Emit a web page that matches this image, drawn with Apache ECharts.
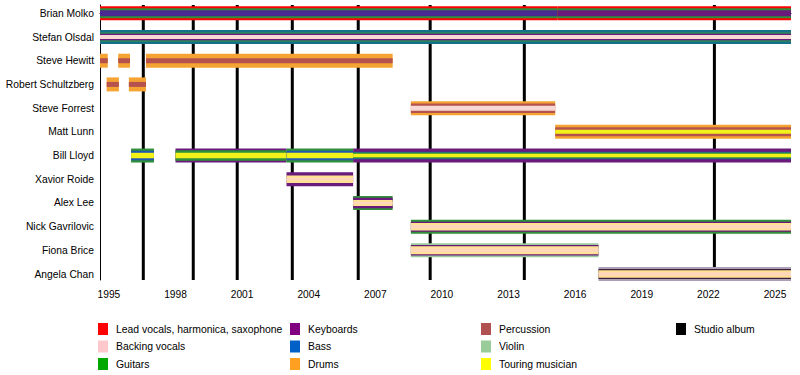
<!DOCTYPE html>
<html><head><meta charset="utf-8">
<script src="https://cdn.jsdelivr.net/npm/echarts@6/dist/echarts.min.js"></script>
<style>html,body{margin:0;padding:0;background:#fff}#c{width:800px;height:375px}</style>
</head><body><div id="c"></div>
<script>
// ---------- data ----------
const members = ['Brian Molko','Stefan Olsdal','Steve Hewitt','Robert Schultzberg','Steve Forrest','Matt Lunn','Bill Lloyd','Xavior Roide','Alex Lee','Nick Gavrilovic','Fiona Brice','Angela Chan'];
const timelineStart = 1994.6;
const timelineEnd = 2025.72;
const albumDates = [1996.55, 1998.8, 2000.78, 2003.26, 2006.23, 2009.47, 2013.71, 2022.27];
const yearTicks = [1995,1996,1997,1998,1999,2000,2001,2002,2003,2004,2005,2006,2007,2008,2009,2010,2011,2012,2013,2014,2015,2016,2017,2018,2019,2020,2021,2022,2023,2024,2025];
const yearLabels = [1995,1998,2001,2004,2007,2010,2013,2016,2019,2022,2025];
// each membership period: member, start, end, roles from outer to inner
const segMember = ['Brian Molko','Brian Molko','Stefan Olsdal','Steve Hewitt','Steve Hewitt','Steve Hewitt','Robert Schultzberg','Robert Schultzberg','Steve Forrest','Matt Lunn','Bill Lloyd','Bill Lloyd','Bill Lloyd','Bill Lloyd','Xavior Roide','Alex Lee','Nick Gavrilovic','Fiona Brice','Angela Chan'];
const segStart  = [1994.6, 2015.2, 1994.6, 1994.6, 1995.42, 1996.67, 1994.9, 1995.9, 2008.6, 2015.1, 1996.0, 1998.0, 2003.0, 2006.0, 2003.0, 2006.0, 2008.6, 2008.6, 2017.05];
const segEnd    = [2015.2, 2025.72, 2025.72, 1994.95, 1995.95, 2007.78, 1995.45, 1996.67, 2015.1, 2025.72, 1997.03, 2003.0, 2006.0, 2025.72, 2006.0, 2007.78, 2025.72, 2017.05, 2025.72];
const segRoles  = [
  ['vocals','guitars','keyboardsBlue'],
  ['vocals','guitars','keyboards'],
  ['bassTeal','guitarsTeal','keyboards','backing'],
  ['drums','percussion'],
  ['drums','percussion'],
  ['drums','percussion'],
  ['drums','percussion'],
  ['drums','percussion'],
  ['drums','percussion','backing'],
  ['drums','percussion','touring'],
  ['guitars','bass','touring'],
  ['keyboards','guitars','touring'],
  ['guitars','bass','touring'],
  ['keyboards','bass','guitars','touring'],
  ['keyboards','touringLight','backingLight'],
  ['guitars','keyboards','touringLight','backingLight'],
  ['guitars','keyboards','touringLight','backingLight'],
  ['violin','keyboards','touringLight','backingLight'],
  ['violinGray','keyboardsDark','touringLight','backingLight']
];
const legendCols = [
  ['Lead vocals, harmonica, saxophone','Backing vocals','Guitars'],
  ['Keyboards','Bass','Drums'],
  ['Percussion','Violin','Touring musician'],
  ['Studio album']
];

// ---------- styles ----------
const segHeights = [
  [14,10,6],
  [14,10,6],
  [14,9.5,6.5,4],
  [14,5],[14,5],[14,5],[14,5],[14,5],
  [14,9.5,5],
  [14,9,4],
  [14,9.5,5.5],
  [14,10.5,5.5],
  [14,9.5,5.5],
  [14,7.5,6,3.5],
  [14,7.5,2.5],
  [14,10.5,6,2.5],
  [14,10,7.5,3.5],
  [14,10.5,8,3.5],
  [14,10,7.5,3.5]
];
const roleColor = {
  vocals:'#ff0000', backing:'#f8d8d4', guitars:'#2f8f3a', guitarsTeal:'#2c8a5c', keyboards:'#6a1a7a', keyboardsBlue:'#4a2a8e',
  keyboardsDark:'#3e1f3a', bass:'#1f58b0', bassTeal:'#17708a',
  drums:'#f5a332', percussion:'#b5524e', violin:'#9ccb9c', violinGray:'#aca0b8', touring:'#f2f21a',
  touringLight:'#ffe194', backingLight:'#ffd6bc'
};
const legendColor = {
  'Lead vocals, harmonica, saxophone':'#ff0000','Backing vocals':'#ffc8cc','Guitars':'#00a800',
  'Keyboards':'#800080','Bass':'#0060c8','Drums':'#ffa020',
  'Percussion':'#b05050','Violin':'#99cc99','Touring musician':'#ffff00','Studio album':'#000000'
};
const legendLeft = [98, 290, 481, 676];

const chart = echarts.init(document.getElementById('c'), null, {renderer:'svg'});
const font = '"Liberation Sans", Arial, sans-serif';

const barData = segMember.map((m,i)=>[segStart[i], segEnd[i], members.indexOf(m), i]);

const series = [
  {
    type:'custom', name:'albums', z:1, silent:true,
    data: albumDates.map(d=>[d]),
    renderItem:(params, api)=>{
      const a = api.coord([api.value(0), -0.35]);
      const b = api.coord([api.value(0), 11.25]);
      return {type:'rect', shape:{x:a[0]-1.5, y:a[1], width:3, height:b[1]-a[1]}, style:{fill:'#000'}};
    }
  },
  {
    type:'custom', name:'bars', z:2, silent:true,
    data: barData,
    renderItem:(params, api)=>{
      const idx = api.value(3);
      const p0 = api.coord([api.value(0), api.value(2)]);
      const p1 = api.coord([api.value(1), api.value(2)]);
      const roles = segRoles[idx], hs = segHeights[idx];
      return {type:'group', children: roles.map((r,k)=>({
        type:'rect', shape:{x:p0[0], y:p0[1]-hs[k]/2, width:p1[0]-p0[0], height:hs[k]},
        style:{fill:roleColor[r]}
      }))};
    }
  }
];
Object.keys(legendColor).forEach(n=>{
  series.push({type:'scatter', name:n, data:[], itemStyle:{color:legendColor[n], opacity:1}});
});

chart.setOption({
  animation:false,
  textStyle:{fontFamily:font},
  grid:{left:100, right:9, top:5, bottom:95, containLabel:false, outerBoundsMode:'none'},
  xAxis:{
    type:'value', min:timelineStart, max:timelineEnd,
    axisLine:{show:true, lineStyle:{color:'#000', width:1}},
    axisTick:{show:true, customValues:yearTicks, length:4, lineStyle:{color:'#000'}},
    axisLabel:{customValues:yearLabels, formatter:v=>String(v), color:'#000', fontSize:10.2, margin:9, fontFamily:font},
    splitLine:{show:false}
  },
  yAxis:{
    type:'value', inverse:true, min:-0.35, max:11.25,
    axisLine:{show:true, lineStyle:{color:'#000', width:1}},
    axisTick:{show:false},
    axisLabel:{customValues:members.map((m,i)=>i), formatter:v=>members[v], color:'#000', fontSize:10.3, margin:6, fontFamily:font},
    splitLine:{show:false}
  },
  legend: legendCols.map((col,i)=>({
    data:col, left:legendLeft[i], top:323, orient:'vertical', icon:'rect',
    itemWidth:10, itemHeight:12, itemGap:5.5, selectedMode:false, padding:0,
    itemStyle:{opacity:1},
    textStyle:{color:'#000', fontSize:10.4, fontFamily:font, padding:[0,0,0,3]}
  })),
  series: series
});
</script>
</body></html>
